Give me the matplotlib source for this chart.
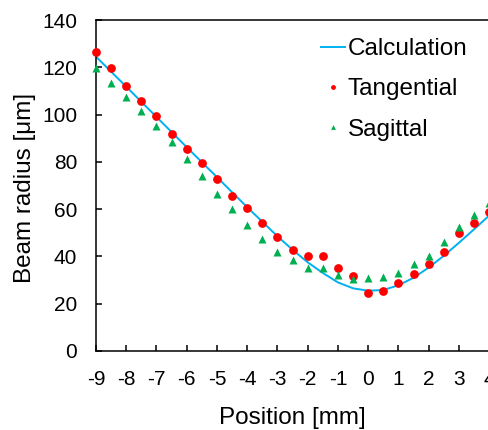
import matplotlib
matplotlib.use("Agg")
import matplotlib.pyplot as plt

plt.rcParams['font.family'] = ['Liberation Sans', 'DejaVu Sans']
plt.rcParams['axes.unicode_minus'] = False

# Calculation curve
calc_x = [-9, -8, -7, -6, -5, -4, -3, -2.5, -2, -1.5, -1, -0.5, 0, 0.5, 1, 1.5, 2, 2.5, 3, 3.5, 4]
calc_y = [124.5, 111.8, 99.0, 86.2, 73.5, 60.8, 48.5, 42.8, 37.5, 33.0, 29.0, 26.5, 25.5, 25.8, 27.8, 31.0, 35.3, 40.3, 45.8, 51.5, 57.3]

pos = [-9, -8.5, -8, -7.5, -7, -6.5, -6, -5.5, -5, -4.5, -4, -3.5, -3, -2.5, -2, -1.5,
       -1, -0.5, 0, 0.5, 1, 1.5, 2, 2.5, 3, 3.5, 4]
tangential = [126.6, 119.8, 112.0, 105.9, 99.5, 91.8, 85.6, 79.7, 72.6, 65.5, 60.3, 54.3,
              48.4, 42.9, 40.3, 40.3, 35.2, 31.6, 24.4, 25.2, 28.9, 32.4, 36.8, 42.0,
              49.8, 54.3, 58.8]
sagittal = [119.6, 113.5, 107.4, 101.4, 95.0, 88.3, 81.2, 74.2, 66.4, 60.2, 53.3, 47.2,
            42.0, 38.3, 35.0, 35.0, 32.3, 30.6, 30.7, 31.4, 33.1, 36.7, 40.2, 46.2,
            52.5, 57.7, 62.5]

xticks = list(range(-9, 5))
yticks = list(range(0, 141, 20))

fig = plt.figure(figsize=(4.88, 4.30), dpi=100)
ax = fig.add_axes([96/488, 79/430, 393.25/488, 331/430])

ax.plot(calc_x, calc_y, color='#00B0F0', lw=1.4, label='Calculation', zorder=2)
ax.plot(pos, tangential, 'o', color='#FF0000', ms=6.3, mec='none', label='Tangential', zorder=3, clip_on=False)
ax.plot(pos, sagittal, '^', color='#00B050', ms=6.3, mec='none', label='Sagittal', zorder=3, clip_on=False)

ax.set_xlim(-9, 4)
ax.set_ylim(0, 140)
ax.set_xticks(xticks)
ax.set_yticks(yticks)
ax.set_xticklabels([str(t) for t in xticks])
ax.set_yticklabels([str(t) for t in yticks])
ax.tick_params(direction='in', length=4.5, width=1.1, labelsize=15, pad=13.5, colors='black')
for s in ax.spines.values():
    s.set_linewidth(1.1)
    s.set_color('black')
ax.spines['right'].set_visible(False)

ax.set_xlabel('Position [mm]', fontsize=17.5)
ax.set_ylabel('Beam radius [μm]', fontsize=17.5)
ax.xaxis.set_label_coords(0.5, -0.168)
ax.yaxis.set_label_coords(-0.153, 0.494)

leg = ax.legend(loc='upper left', bbox_to_anchor=(0.547, 0.975), frameon=False,
                fontsize=17.5, handlelength=1.0, handletextpad=0.1, markerscale=0.55,
                labelspacing=0.76, borderaxespad=0)

fig.savefig('out.png', dpi=100)
